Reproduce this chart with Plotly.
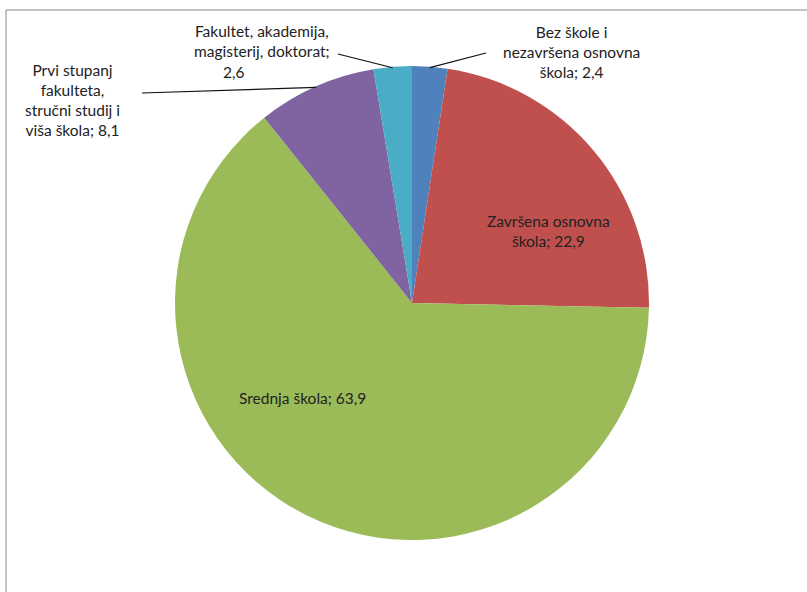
import math
import plotly.graph_objects as go

# ---- data ----
labels = [
    "Bez škole i nezavršena osnovna škola",
    "Završena osnovna škola",
    "Srednja škola",
    "Prvi stupanj fakulteta, stručni studij i viša škola",
    "Fakultet, akademija, magisterij, doktorat",
]
values = [2.4, 22.9, 63.9, 8.1, 2.6]
value_text = ["2,4", "22,9", "63,9", "8,1", "2,6"]
colors = ["#4F81BD", "#C0504D", "#9BBB59", "#8064A2", "#4BACC6"]

W, H = 807, 592
CX, CY, R = 412, 303, 237  # pie geometry in pixels (layout)
FONT = "Lato"
FS = 15.5
TXT = "#222222"


def px(x):
    return x / W


def py(y):
    return 1 - y / H


fig = go.Figure()
fig.add_trace(go.Pie(
    labels=labels,
    values=values,
    marker=dict(colors=colors, line=dict(width=0)),
    sort=False,
    direction="clockwise",
    rotation=0,
    textinfo="none",
    hoverinfo="label+value",
    showlegend=False,
    domain=dict(x=[px(CX - R), px(CX + R)], y=[py(CY + R), py(CY - R)]),
))

# mid-angles (clockwise from 12 o'clock) of each slice, from the data
total = sum(values)
mids = []
acc = 0
for v in values:
    mids.append((acc + v / 2) / total * 2 * math.pi)
    acc += v


def edge(i, r=R):
    a = mids[i]
    return CX + r * math.sin(a), CY - r * math.cos(a)


# label text blocks (layout positions)
ann = [
    dict(text="Bez škole i<br>nezavršena osnovna<br>škola; " + value_text[0], x=571, y=52),
    dict(text="Završena osnovna<br>škola; " + value_text[1], x=548, y=231),
    dict(text="Srednja škola; " + value_text[2], x=302, y=398),
    dict(text="Prvi stupanj<br>fakulteta,<br>stručni studij i<br>viša škola; " + value_text[3], x=72, y=100),
    dict(text="Fakultet, akademija,<br>magisterij, doktorat;", x=262, y=41),
    dict(text=value_text[4], x=234, y=72),
]
for a in ann:
    fig.add_annotation(
        x=px(a["x"]), y=py(a["y"]), xref="paper", yref="paper",
        text=a["text"], showarrow=False, align="center",
        xanchor="center", yanchor="middle",
        font=dict(family=FONT, size=FS, color=TXT),
    )

# leader lines: from slice edge to label
leader_ends = {0: (486, 53), 3: (142, 93), 4: (338, 54)}
for i, (ex, ey) in leader_ends.items():
    sx, sy = edge(i, R - 1)
    fig.add_shape(type="line", xref="paper", yref="paper",
                  x0=px(sx), y0=py(sy), x1=px(ex), y1=py(ey),
                  line=dict(color="#111111", width=1.2), layer="above")

# chart frame
fig.add_shape(type="rect", xref="paper", yref="paper",
              x0=px(6), y0=py(600), x1=px(815), y1=py(10),
              line=dict(color="#8a8a8a", width=1), layer="below")

fig.update_layout(
    width=W, height=H,
    margin=dict(l=0, r=0, t=0, b=0),
    paper_bgcolor="white",
    plot_bgcolor="white",
    font=dict(family=FONT, size=FS, color=TXT),
)

fig.write_html("out.html", config={"displayModeBar": False},
               post_script="document.body.style.margin='0';")
